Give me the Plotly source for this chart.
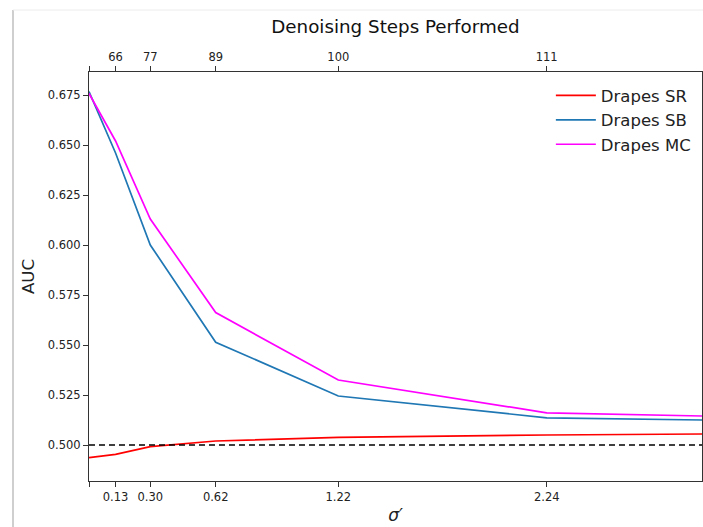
import plotly.graph_objects as go

sigma = [0.0, 0.13, 0.30, 0.62, 1.22, 2.24, 3.0]
drapes_sr = [0.4937, 0.4953, 0.4992, 0.5020, 0.5038, 0.5050, 0.5055]
drapes_sb = [0.6767, 0.6460, 0.6000, 0.5514, 0.5245, 0.5136, 0.5125]
drapes_mc = [0.6758, 0.6520, 0.6130, 0.5662, 0.5325, 0.5161, 0.5145]

bottom_tickvals = [0.0, 0.13, 0.30, 0.62, 1.22, 2.24]
bottom_ticktext = ["", "0.13", "0.30", "0.62", "1.22", "2.24"]
top_ticktext = ["", "66", "77", "89", "100", "111"]
yticks = [0.500, 0.525, 0.550, 0.575, 0.600, 0.625, 0.650, 0.675]
baseline = 0.5

FONT = "DejaVu Sans"
xr = [0, 3.0]
yr = [0.482, 0.6865]

fig = go.Figure()
fig.add_trace(go.Scatter(x=sigma, y=drapes_sr, mode="lines", name="Drapes SR",
                         line=dict(color="#ff0000", width=1.7)))
fig.add_trace(go.Scatter(x=sigma, y=drapes_sb, mode="lines", name="Drapes SB",
                         line=dict(color="#1f77b4", width=1.7)))
fig.add_trace(go.Scatter(x=sigma, y=drapes_mc, mode="lines", name="Drapes MC",
                         line=dict(color="#ff00ff", width=1.7)))
fig.add_trace(go.Scatter(x=xr, y=[baseline, baseline], mode="lines", showlegend=False,
                         xaxis="x2", line=dict(color="black", width=1.7, dash="6px,4px")))

fig.update_layout(
    width=703, height=527,
    margin=dict(l=89, r=1, t=72, b=46),
    paper_bgcolor="white", plot_bgcolor="white",
    font=dict(family=FONT, color="#222222"),
    title=dict(text="Denoising Steps Performed", x=0.5625, xanchor="center",
               y=1 - 27 / 527, yanchor="middle", font=dict(size=18.3, family=FONT, color="#111111")),
    xaxis=dict(range=xr, tickvals=bottom_tickvals, ticktext=bottom_ticktext,
               showgrid=False, zeroline=False, showline=True, linecolor="#333333", linewidth=1,
               ticks="outside", ticklen=5, tickcolor="#333333", tickfont=dict(size=11.5),
               title=dict(text="<i>σ′</i>", font=dict(size=17), standoff=6)),
    xaxis2=dict(range=xr, tickvals=bottom_tickvals, ticktext=top_ticktext, overlaying="x",
                side="top", showgrid=False, zeroline=False, showline=True, linecolor="#333333",
                linewidth=1, ticks="outside", ticklen=5, tickcolor="#333333",
                tickfont=dict(size=11.5)),
    yaxis=dict(range=yr, tickvals=yticks, tickformat=".3f",
               showgrid=False, zeroline=False, showline=True, mirror=True, linecolor="#333333",
               linewidth=1, ticks="outside", ticklen=5, tickcolor="#333333",
               tickfont=dict(size=11.5),
               title=dict(text="AUC", font=dict(size=16.6), standoff=8)),
    legend=dict(x=0.99, y=0.985, xanchor="right", yanchor="top", bgcolor="rgba(255,255,255,0)",
                font=dict(size=16.5, family=FONT, color="#222222"), tracegroupgap=0,
                itemwidth=40),
    showlegend=True,
)

# screenshot frame edges
fig.add_shape(type="line", xref="paper", yref="paper",
              x0=(13 - 89) / 613, x1=(13 - 89) / 613, y0=(481 - 10) / 409, y1=-46 / 409,
              line=dict(color="#cfcfcf", width=2))
fig.add_shape(type="line", xref="paper", yref="paper",
              x0=(13 - 89) / 613, x1=1.01, y0=(481 - 10) / 409, y1=(481 - 10) / 409,
              line=dict(color="#ececec", width=1))

fig.write_html("out.html")
